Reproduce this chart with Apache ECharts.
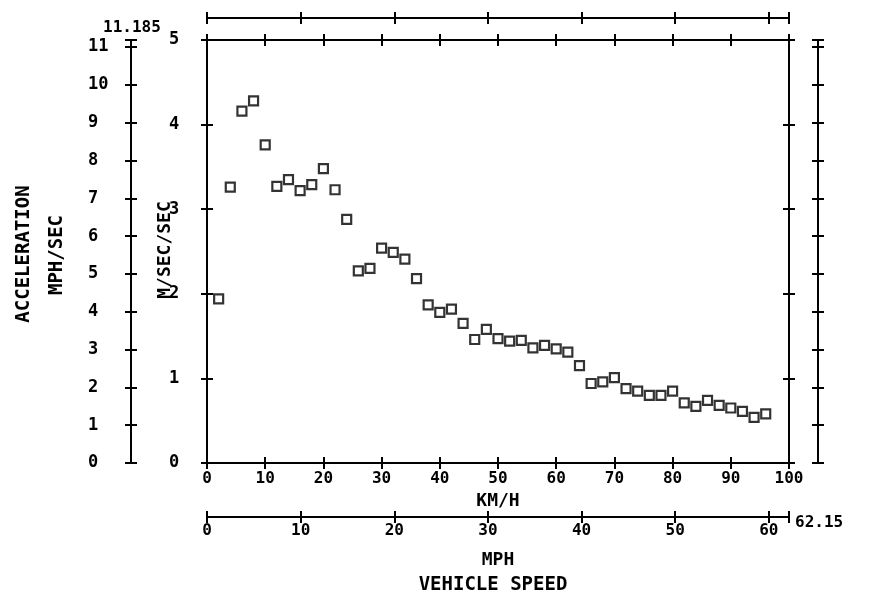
<!DOCTYPE html>
<html>
<head>
<meta charset="utf-8">
<script src="https://cdn.jsdelivr.net/npm/echarts@6/dist/echarts.min.js"></script>
<style>html,body{margin:0;padding:0;background:#fff;}#c{width:869px;height:602px;}</style>
</head>
<body>
<div id="c"></div>
<script>
// ---- data ----
const speedKmh = [2,4,6,8,10,12,14,16,18,20,22,24,26,28,30,32,34,36,38,40,42,44,46,48,50,52,54,56,58,60,62,64,66,68,70,72,74,76,78,80,82,84,86,88,90,92,94,96];
const accelMs2 = [1.94,3.26,4.16,4.28,3.76,3.27,3.35,3.22,3.29,3.48,3.23,2.88,2.27,2.30,2.54,2.49,2.41,2.18,1.87,1.78,1.82,1.65,1.46,1.58,1.47,1.44,1.45,1.36,1.39,1.35,1.31,1.15,0.94,0.96,1.01,0.88,0.85,0.80,0.80,0.85,0.71,0.67,0.74,0.68,0.65,0.61,0.54,0.58];
const kmhRange = [0, 100, 10];
const mphRange = [0, 62.15, 10];
const ms2Range = [0, 5, 1];
const mphsRange = [0, 11.185, 1];
const texts = {
  kmh: 'KM/H', mph: 'MPH', speed: 'VEHICLE SPEED',
  accel: 'ACCELERATION', mphs: 'MPH/SEC', ms2: 'M/SEC/SEC',
  mphsTop: '11.185', mphEnd: '62.15'
};

const FONT = "'DejaVu Sans Mono', monospace";
const lbl = {color:'#000', fontFamily:FONT, fontWeight:'bold', fontSize:16};
const ink = {color:'#000', width:2};

function axisPair(r, o) {
  const common = {type:'value', min:r[0], max:r[1], interval:r[2], position:o.position,
    offset:o.offset||0, splitLine:{show:false}, gridIndex:0, z:5};
  const a = Object.assign({}, common, {
    axisLine:{show:true, onZero:false, lineStyle:ink},
    axisTick:{show:true, inside:false, length:6, lineStyle:ink},
    axisLabel: o.label ? Object.assign({show:true}, lbl, o.label) : {show:false}
  });
  if (o.name) {
    a.name = o.name; a.nameLocation = 'middle'; a.nameGap = o.nameGap;
    a.nameTextStyle = Object.assign({}, lbl, {fontSize:18, align:'center', verticalAlign:'middle'});
  }
  const b = Object.assign({}, common, {
    axisLine:{show:false, onZero:false},
    axisTick:{show:true, inside:true, length:6, lineStyle:ink},
    axisLabel:{show:false}
  });
  return [a, b];
}

const xAxes = [].concat(
  axisPair(kmhRange, {position:'bottom', offset:0, name:texts.kmh, nameGap:30,
    label:{margin:8}}),
  axisPair(mphRange, {position:'bottom', offset:54, name:texts.mph, nameGap:43,
    label:{margin:6, formatter:v => v > 62 ? '' : String(v)}}),
  axisPair(mphRange, {position:'top', offset:22}),
  axisPair(kmhRange, {position:'top', offset:0})
);
const yAxes = [].concat(
  axisPair(ms2Range, {position:'left', offset:0, label:{margin:38, align:'left', fontSize:17}}),
  axisPair(mphsRange, {position:'left', offset:76,
    label:{margin:43, align:'left', fontSize:17, formatter:v => v > 11.1 ? '' : String(v)}}),
  axisPair(ms2Range, {position:'right', offset:0}),
  axisPair(mphsRange, {position:'right', offset:29})
);

const txt = (s, x, y, extra) => ({
  type:'text', x:x, y:y, rotation:(extra && extra.rot) || 0, z:10,
  style:Object.assign({text:s, fill:'#000', fontFamily:FONT, fontWeight:'bold', fontSize:18,
    align:'center', verticalAlign:'middle'}, (extra && extra.style) || {})
});

const chart = echarts.init(document.getElementById('c'), null, {renderer:'canvas'});
chart.setOption({
  backgroundColor:'#fff',
  animation:false,
  grid:{left:207, right:80, top:40, bottom:139, containLabel:false},
  xAxis:xAxes,
  yAxis:yAxes,
  graphic:[
    txt(texts.accel, 24, 254, {rot:Math.PI/2, style:{fontSize:19}}),
    txt(texts.mphs, 57, 255, {rot:Math.PI/2, style:{fontSize:19}}),
    txt(texts.ms2, 165, 250, {rot:Math.PI/2}),
    txt(texts.speed, 493, 585, {style:{fontSize:19}}),
    txt(texts.mphsTop, 103, 28, {style:{fontSize:16, align:'left'}}),
    txt(texts.mphEnd, 795, 523, {style:{fontSize:16, align:'left'}})
  ],
  series:[{
    type:'scatter', xAxisIndex:0, yAxisIndex:0,
    symbol:'rect', symbolSize:9,
    itemStyle:{color:'#fff', borderColor:'#000', borderWidth:2.2},
    data:speedKmh.map((k, i) => [k, accelMs2[i]])
  }]
});
</script>
</body>
</html>
